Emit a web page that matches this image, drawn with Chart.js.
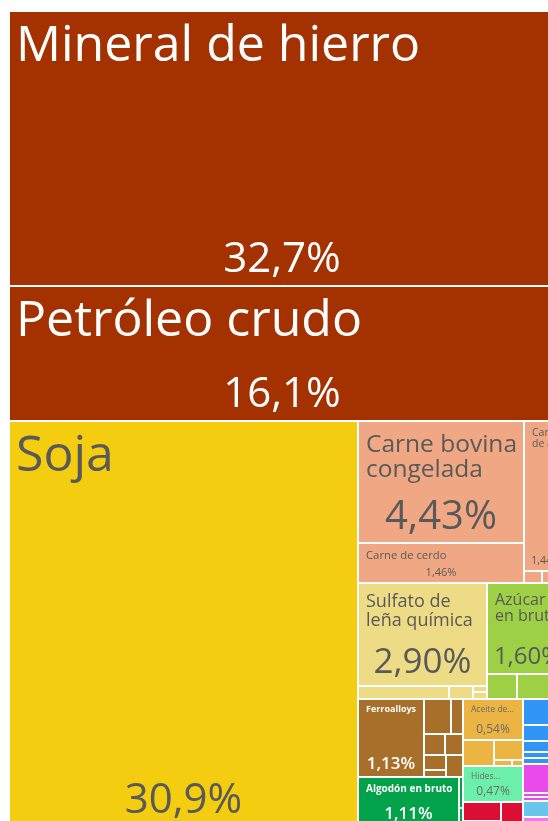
<!DOCTYPE html>
<html><head><meta charset="utf-8">
<script src="https://cdn.jsdelivr.net/npm/chart.js@4.4.1/dist/chart.umd.min.js"></script>
<style>
html,body{margin:0;padding:0;background:#fff;overflow:hidden;}
#wrap{width:548px;height:821px;overflow:hidden;position:relative;background:#fff;}
canvas{display:block;}
</style></head><body>
<div id="wrap"><canvas id="c" width="580" height="840" style="width:580px;height:840px"></canvas></div>
<script>
// ---------- DATA ----------
const products = [
 'Mineral de hierro','Petróleo crudo','Mineral de cobre','Mineral de manganeso','Petróleo refinado','Mineral de níquel',
 'Soja',
 'Carne bovina congelada','Carne de cerdo','Carne de ave','Despojos comestibles','Carne bovina fresca',
 'Sulfato de leña química','Papel sin recubrir','Sulfito de leña química','Papel kraft','Cartón',
 'Azúcar en bruto','Harina de soja','Jugo de naranja',
 'Ferroalloys','Hierro semiacabado','Cobre refinado','Aluminio en bruto','Hierro en bruto','Barras de hierro','Estaño en bruto','Tubos de hierro',
 'Algodón en bruto','Hilado de algodón','Sisal',
 'Aceite de...','Aceite de palma','Cera vegetal','Glicerina','Sebo',
 'Hides...',
 'Polímeros de etileno','Caucho sintético','Polímeros de propileno',
 'Motores','Turbinas','Bombas','Válvulas','Compresores','Partes de motores','Aviones',
 'Compuestos nitrogenados','Ácidos','Fosfatos','Alcoholes','Otros químicos',
 'Partes de vehículos',
 'Instrumentos médicos','Instrumentos ópticos'
];
const shares = [
 32.7, 16.1, 0.45, 0.35, 0.22, 0.15,
 30.9,
 4.43, 1.46, 1.44, 0.05, 0.07,
 2.90, 0.26, 0.07, 0.02, 0.02,
 1.60, 0.16, 0.28,
 1.13, 0.21, 0.09, 0.10, 0.085, 0.07, 0.035, 0.08,
 1.11, 0.025, 0.015,
 0.54, 0.175, 0.125, 0.025, 0.015,
 0.47,
 0.16, 0.05, 0.12,
 0.26, 0.12, 0.04, 0.07, 0.03, 0.06, 0.06,
 0.22, 0.04, 0.03, 0.04, 0.03,
 0.16,
 0.06, 0.04
];
const sectorOf = [
 0,0,0,0,0,0,
 1,
 2,2,2,2,2,
 3,3,3,3,3,
 4,4,4,
 5,5,5,5,5,5,5,5,
 6,6,6,
 7,7,7,7,7,
 8,
 9,9,9,
 10,10,10,10,10,10,10,
 11,11,11,11,11,
 12,
 13,13
];
const sectors = ['Minerales','Vegetales','Animales','Papel','Alimentos','Metales','Textiles','Grasas','Pieles','Plásticos','Máquinas','Químicos','Transporte','Instrumentos'];
const sectorColors = ['#A43100','#F4CD11','#F0A884','#EEDB85','#9DD045','#A86F2A','#02A24A','#ECB443','#6CEFAA','#DD0E33','#3195F8','#E94AE9','#68C6EC','#F577F5'];

// nesting of the treemap ('v' = stacked top to bottom, 'h' = side by side)
const tree = ['v',
  ['h', ['v','Mineral de hierro','Petróleo crudo'], ['v','Mineral de cobre','Mineral de manganeso','Petróleo refinado','Mineral de níquel']],
  ['h', 'Soja',
    ['v',
      ['h', ['v','Carne bovina congelada','Carne de cerdo'], ['v','Carne de ave', ['h','Despojos comestibles','Carne bovina fresca']]],
      ['h', ['v','Sulfato de leña química', ['h','Papel sin recubrir','Sulfito de leña química', ['v','Papel kraft','Cartón']]],
            ['v','Azúcar en bruto', ['h','Harina de soja','Jugo de naranja']]],
      ['h',
        ['v', ['h','Ferroalloys', ['v', ['h','Hierro semiacabado','Cobre refinado'], ['h','Aluminio en bruto','Hierro en bruto'], ['h',['v','Barras de hierro','Estaño en bruto'],'Tubos de hierro']]],
              ['h','Algodón en bruto', ['v','Hilado de algodón','Sisal']]],
        ['v', ['v','Aceite de...', ['h','Aceite de palma', ['v','Cera vegetal', ['h','Glicerina','Sebo']]]],
              'Hides...',
              ['h', ['v','Polímeros de etileno','Caucho sintético'], 'Polímeros de propileno']],
        ['v', ['v','Motores', ['h','Turbinas','Bombas'], ['h','Válvulas','Compresores'], 'Partes de motores', 'Aviones'],
              ['v', ['h','Compuestos nitrogenados', ['v','Ácidos','Fosfatos']], 'Alcoholes', 'Otros químicos'],
              'Partes de vehículos',
              ['h','Instrumentos médicos','Instrumentos ópticos']]
      ]
    ]
  ]
];

// ---------- LABEL STYLES ----------
const GRAY = '#595959';
const labelStyle = {
  'Mineral de hierro': {text:'Mineral de hierro', name:50, pct:42, color:'#fff'},
  'Petróleo crudo': {text:'Petróleo crudo', name:50, pct:42, color:'#fff'},
  'Soja': {text:'Soja', name:50, pct:42, color:GRAY},
  'Carne bovina congelada': {text:'Carne bovina\ncongelada', name:24.5, pct:40, color:GRAY},
  'Carne de cerdo': {text:'Carne de cerdo', name:11.3, pct:11, color:GRAY},
  'Carne de ave': {text:'Carne\nde ave', name:10.5, pct:10.5, color:GRAY},
  'Sulfato de leña química': {text:'Sulfato de\nleña química', name:18, pct:35, color:GRAY},
  'Azúcar en bruto': {text:'Azúcar\nen bruto', name:16, pct:24, color:GRAY},
  'Ferroalloys': {text:'Ferroalloys', name:9, pct:17, color:'#fff', weight:700, pctWeight:600},
  'Aceite de...': {text:'Aceite de...', name:8.5, pct:12, color:'#6a6a6a'},
  'Hides...': {text:'Hides...', name:8.5, pct:12, color:'#6a6a6a'},
  'Algodón en bruto': {text:'Algodón en bruto', name:10, pct:17, color:'#fff', weight:700, pctWeight:600}
};

// ---------- LAYOUT (from values) ----------
const shareOf = {}; products.forEach((p,i)=>shareOf[p]=shares[i]);
function sumNode(n){ return typeof n === 'string' ? shareOf[n] : n.slice(1).reduce((s,c)=>s+sumNode(c),0); }
function layout(node,x0,y0,x1,y1,out){
  if (typeof node === 'string'){ out.push({name:node,x0,y0,x1,y1}); return; }
  const dir=node[0], kids=node.slice(1), tot=sumNode(node);
  let acc=0;
  for (const k of kids){
    const v=sumNode(k), a=acc/tot, b=(acc+v)/tot; acc+=v;
    if (dir==='h') layout(k, x0+(x1-x0)*a, y0, x0+(x1-x0)*b, y1, out);
    else layout(k, x0, y0+(y1-y0)*a, x1, y0+(y1-y0)*b, out);
  }
}
const rects=[]; layout(tree,0,0,1,1,rects);
const cells = rects.map(r=>{
  const i = products.indexOf(r.name);
  return {x:(r.x0+r.x1)/2, y:(r.y0+r.y1)/2, x0:r.x0, x1:r.x1, y0:r.y0, y1:r.y1,
          name:r.name, share:shares[i], color:sectorColors[sectorOf[i]]};
});

function fmtPct(v){ return (v >= 10 ? v.toFixed(1) : v.toFixed(2)).replace('.',',') + '%'; }

const treemapPlugin = {
  id:'treemapCells',
  afterDatasetsDraw(chart){
    const {ctx, scales:{x,y}} = chart;
    const data = chart.data.datasets[0].data;
    ctx.save();
    for (const c of data){
      const L=Math.round(x.getPixelForValue(c.x0))+1, R=Math.round(x.getPixelForValue(c.x1))-1;
      const T=Math.round(y.getPixelForValue(c.y0))+1, B=Math.round(y.getPixelForValue(c.y1))-1;
      c.box=null;
      if (R<=L || B<=T) continue;
      ctx.fillStyle=c.color; ctx.fillRect(L,T,R-L,B-T);
      c.box={L,R,T,B};
    }
    for (const c of data){
      const st=labelStyle[c.name]; if(!st||!c.box) continue;
      const {L,R,T,B}=c.box;
      ctx.save();
      ctx.beginPath(); ctx.rect(L,T,R-L,B-T); ctx.clip();
      ctx.fillStyle=st.color;
      const f=st.name, fw=st.weight||400;
      ctx.font=`${fw} ${f}px "Open Sans"`;
      ctx.textAlign='left'; ctx.textBaseline='alphabetic';
      const padX = f>30 ? 6 : 7;
      let base = T + Math.min(13, 0.5*f+1.5) + 0.714*f;
      for (const ln of st.text.split('\n')){ ctx.fillText(ln, L+padX, base); base += f*1.02; }
      const pf=st.pct;
      ctx.font=`${st.pctWeight||fw} ${pf}px "Open Sans"`;
      ctx.textAlign='center';
      ctx.fillText(fmtPct(c.share), (L+R)/2, B-(0.25*pf+3));
      ctx.restore();
    }
    ctx.restore();
  }
};

function build(){
  new Chart(document.getElementById('c'), {
    type:'scatter',
    data:{datasets:[{label:'Exportaciones', data:cells, pointRadius:0, pointHoverRadius:0, showLine:false}]},
    options:{
      responsive:false, animation:false, events:[],
      layout:{padding:{left:9, top:11, right:12, bottom:13}},
      scales:{
        x:{type:'linear', min:0, max:1, display:false},
        y:{type:'linear', min:0, max:1, reverse:true, display:false}
      },
      plugins:{legend:{display:false}, tooltip:{enabled:false}}
    },
    plugins:[treemapPlugin]
  });
}
Promise.all([
  document.fonts.load('400 50px "Open Sans"'),
  document.fonts.load('700 10px "Open Sans"'),
  document.fonts.load('600 17px "Open Sans"')
]).then(build, build);
</script>
</body></html>
